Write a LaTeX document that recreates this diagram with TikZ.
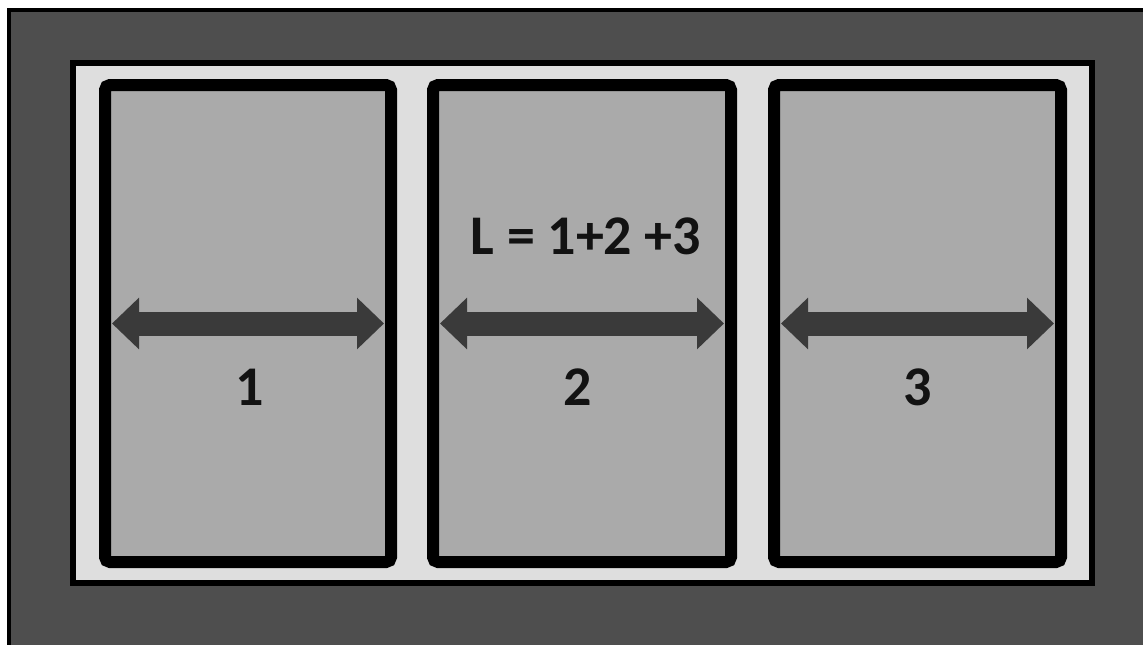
\documentclass[tikz,border=0pt]{standalone}
\usepackage{fontspec}
\setmainfont{Carlito}
\usetikzlibrary{arrows.meta,positioning}
\definecolor{bggry}{HTML}{4E4E4E}
\definecolor{frmgry}{HTML}{DEDEDE}
\definecolor{pnlgry}{HTML}{AAAAAA}
\definecolor{argry}{HTML}{3A3A3A}
\tikzset{
  frm/.style={draw=black,line width=6pt,fill=frmgry,inner sep=0pt,
              minimum width=1019pt,minimum height=520pt},
  pnl/.style={draw=black,line width=12pt,fill=pnlgry,rounded corners=5pt,
              inner sep=0pt,minimum height=477pt},
  dar/.style={{Triangle[length=27pt,width=50pt]}-{Triangle[length=27pt,width=50pt]},
              line width=24pt,draw=argry,shorten <=13pt,shorten >=13pt},
  num/.style={font=\fontsize{56}{60}\selectfont\bfseries,text=black!93},
}
\begin{document}
\begin{tikzpicture}[x=1pt,y=-1pt,node distance=30pt]
  \useasboundingbox (0,0) rectangle (1143,645);
  % dark surround, edged on top and left
  \fill[bggry] (7,8) rectangle (1143,645);
  \draw[line width=4pt] (9,645) -- (9,10) -- (1143,10);
  \node[frm] (frame) at (582.5,323) {};
  % the three panels
  \node[pnl,minimum width=286pt] (p1) at (248,323.5) {};
  \node[pnl,minimum width=298pt] (p2) [right=of p1] {};
  \node[pnl,minimum width=287pt] (p3) [right=31pt of p2] {};
  \draw[dar] (p1.west) -- (p1.east);
  \draw[dar] (p2.west) -- (p2.east);
  \draw[dar] (p3.west) -- (p3.east);
  \node[num] (n1) at ([xshift=2pt,yshift=-64pt]p1.center) {1};
  \node[num] (n2) at ([xshift=-4pt,yshift=-64pt]p2.center) {2};
  \node[num] (n3) at ([yshift=-64pt]p3.center) {3};
  \node[num] (sum) at ([xshift=4pt,yshift=87pt]p2.center) {L = 1+2 +3};
\end{tikzpicture}
\end{document}
